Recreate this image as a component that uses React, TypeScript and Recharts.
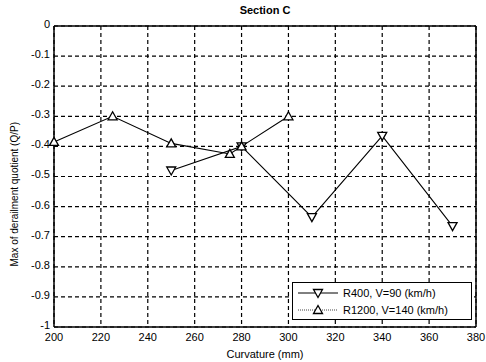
import { LineChart, Line, XAxis, YAxis, CartesianGrid, ReferenceLine } from 'recharts';

const r400Curvature = [250, 280, 310, 340, 370];
const r400Quotient = [-0.48, -0.4, -0.635, -0.365, -0.665];
const r1200Curvature = [200, 225, 250, 275, 280, 300];
const r1200Quotient = [-0.385, -0.3, -0.39, -0.425, -0.4, -0.3];
const xTicks = [200, 220, 240, 260, 280, 300, 320, 340, 360, 380];
const yTicks = [0, -0.1, -0.2, -0.3, -0.4, -0.5, -0.6, -0.7, -0.8, -0.9, -1];

const r400Data = r400Curvature.map((x, i) => ({ x, y: r400Quotient[i] }));
const r1200Data = r1200Curvature.map((x, i) => ({ x, y: r1200Quotient[i] }));

const FONT = '"Liberation Sans", Arial, sans-serif';

const DownTri = ({ cx, cy }: any) => (
  <path d={`M${cx - 4.5},${cy - 3.5} L${cx + 4.5},${cy - 3.5} L${cx},${cy + 4.5} Z`} fill="#fff" stroke="#000" strokeWidth={1.3} />
);
const UpTri = ({ cx, cy }: any) => (
  <path d={`M${cx - 4.5},${cy + 3.5} L${cx + 4.5},${cy + 3.5} L${cx},${cy - 4.5} Z`} fill="#fff" stroke="#000" strokeWidth={1.3} />
);

const fmtY = (v: number) => (v === 0 ? '0' : v === -1 ? '-1' : v.toFixed(1));

function LegendBox() {
  return (
    <div style={{ position: 'absolute', left: 292, top: 282, width: 172, height: 34, border: '1.5px solid #000', background: '#fff', padding: '1px 3px', fontFamily: FONT, fontSize: 11 }}>
      <div style={{ display: 'flex', alignItems: 'center', height: 17 }}>
        <svg width={44} height={12}>
          <line x1={2} y1={6} x2={42} y2={6} stroke="#000" strokeWidth={1} />
          <DownTri cx={22} cy={6} />
        </svg>
        <span style={{ marginLeft: 3 }}>R400, V=90 (km/h)</span>
      </div>
      <div style={{ display: 'flex', alignItems: 'center', height: 17 }}>
        <svg width={44} height={12}>
          <line x1={2} y1={6} x2={42} y2={6} stroke="#444" strokeWidth={1} strokeDasharray="1 1" />
          <UpTri cx={22} cy={6} />
        </svg>
        <span style={{ marginLeft: 3 }}>R1200, V=140 (km/h)</span>
      </div>
    </div>
  );
}

export default function App() {
  return (
    <div style={{ position: 'absolute', left: 0, top: 0, width: 486, height: 362, background: '#fff' }}>
      <div style={{ position: 'absolute', top: 4, left: 54, width: 422, textAlign: 'center', fontFamily: FONT, fontSize: 11, fontWeight: 'bold' }}>
        Section C
      </div>
      <LineChart width={486} height={362} margin={{ top: 26, right: 10, bottom: 15, left: 24 }}>
        <CartesianGrid stroke="#000" strokeDasharray="4 3" strokeWidth={1.2} />
        <XAxis
          dataKey="x"
          type="number"
          domain={[200, 380]}
          ticks={xTicks}
          allowDuplicatedCategory={false}
          height={20}
          stroke="#000"
          strokeWidth={1.5}
          tickSize={0}
          tickMargin={6}
          tick={{ fill: '#000', fontSize: 11, fontFamily: FONT }}
          label={{ value: 'Curvature (mm)', position: 'insideBottom', offset: -11, fill: '#000', fontSize: 11, fontFamily: FONT }}
        />
        <YAxis
          type="number"
          domain={[-1, 0]}
          ticks={yTicks}
          width={30}
          stroke="#000"
          strokeWidth={1.5}
          tickSize={0}
          tickMargin={4}
          tickFormatter={fmtY}
          tick={{ fill: '#000', fontSize: 11, fontFamily: FONT, dy: -2 }}
          label={{ value: 'Max of derailment quotient (Q/P)', angle: -90, position: 'insideLeft', offset: -10, dy: 90, fill: '#000', fontSize: 10, fontFamily: FONT }}
        />
        <ReferenceLine y={0} stroke="#000" strokeWidth={1.5} />
        <ReferenceLine x={380} stroke="#000" strokeWidth={1.5} />
        <Line data={r400Data} dataKey="y" stroke="#000" strokeWidth={1.1} dot={<DownTri />} isAnimationActive={false} />
        <Line data={r1200Data} dataKey="y" stroke="#000" strokeWidth={1.1} dot={<UpTri />} isAnimationActive={false} />
      </LineChart>
      <LegendBox />
    </div>
  );
}
